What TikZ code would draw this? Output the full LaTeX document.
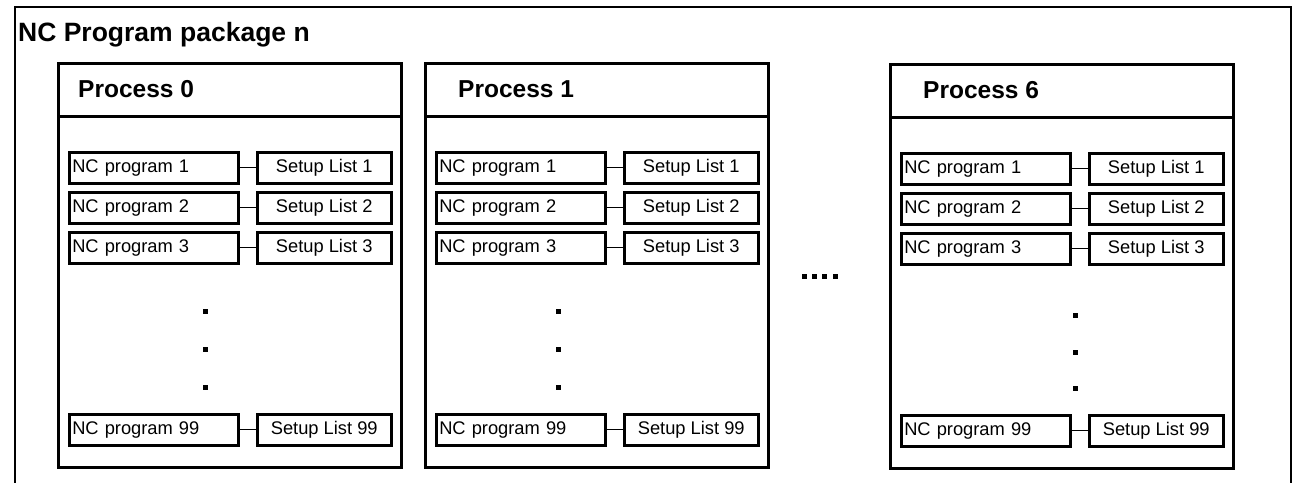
\documentclass[tikz,border=0pt]{standalone}
\usepackage{fontspec}
\setmainfont{Liberation Sans}
\begin{document}
\begin{tikzpicture}[x=1pt,y=-1pt,
  frame/.style={draw=black,line width=2.6pt},
  procbox/.style={draw=black,line width=2.6pt,minimum width=343pt,minimum height=404pt,
    anchor=north west,inner sep=0pt},
  prochead/.style={draw=black,line width=2.6pt,minimum width=343pt,minimum height=53pt,
    anchor=north west,inner sep=0pt},
  proclabel/.style={font=\bfseries\fontsize{24.5}{28}\selectfont,anchor=west,inner sep=0pt},
  titlelabel/.style={font=\bfseries\fontsize{26.5}{31}\selectfont,anchor=west,inner sep=0pt},
  ncbox/.style={draw=black,line width=2.5pt,text width=163pt,inner xsep=3pt,inner ysep=0pt,
    minimum height=31pt,align=left,anchor=north west,font=\fontsize{18.3}{21}\selectfont},
  setupbox/.style={draw=black,line width=2.5pt,minimum width=134pt,minimum height=31pt,
    inner sep=0pt,anchor=north west,font=\fontsize{18.3}{21}\selectfont},
  link/.style={draw=black,line width=1.4pt},
  dotmark/.style={fill=black,minimum size=5pt,inner sep=0pt}]

\useasboundingbox (0,0) rectangle (1295,482);
\clip (0,0) rectangle (1295,482);
\fill[white] (0,0) rectangle (1295,482);

% package frame (open at the bottom)
\draw[frame] (15,7) rectangle (1291,520);
\node[titlelabel] (title) at (18,35) {NC Program package n};

% processes: id / left / top / number / label offset / dot column / dot rows
\foreach \id/\px/\py/\num/\lx/\dx/\da/\db/\dc in
  {pa/57/62/0/21/205/311/349/387,
   pb/424/62/1/34/558/311/349/387,
   pc/889/63/6/34/1075/315/352/388} {
  \node[procbox] (\id box) at (\px,\py) {};
  \node[prochead] (\id head) at (\px,\py) {};
  \node[proclabel] (\id label) at (\px+\lx,\py+27) {Process \num};
  \foreach \r/\ry/\k in {1/89/1, 2/129/2, 3/169/3, 4/351/99} {
    \node[ncbox] (\id nc\r) at (\px+11,\py+\ry) {NC program \k};
    \node[setupbox] (\id su\r) at (\px+199,\py+\ry) {Setup List \k};
    \draw[link] (\id nc\r.east) -- (\id su\r.west);
  }
  \node[dotmark] (\id dot1) at (\dx,\da) {};
  \node[dotmark] (\id dot2) at (\dx,\db) {};
  \node[dotmark] (\id dot3) at (\dx,\dc) {};
}

% ellipsis between the processes
\node[dotmark] (gap1) at (804,276) {};
\node[dotmark] (gap2) at (814,276) {};
\node[dotmark] (gap3) at (824,276) {};
\node[dotmark] (gap4) at (835,276) {};
\end{tikzpicture}
\end{document}
